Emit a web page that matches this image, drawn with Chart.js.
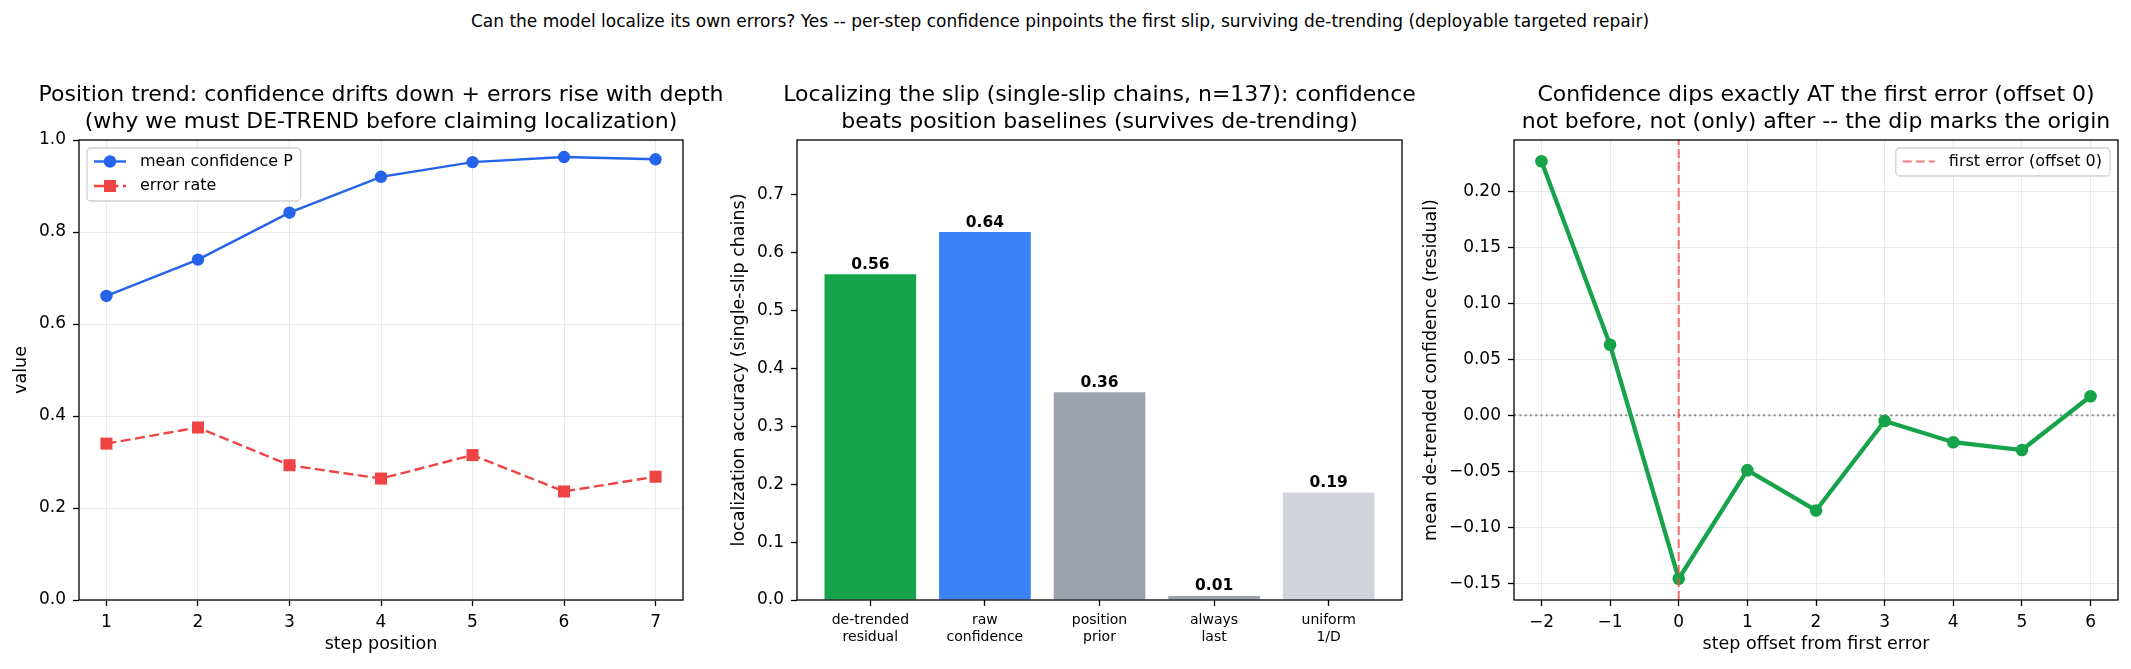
<!DOCTYPE html>
<html>
<head>
<meta charset="utf-8">
<script src="https://cdn.jsdelivr.net/npm/chart.js@4.4.1/dist/chart.umd.min.js"></script>
<style>
  html, body { margin: 0; padding: 0; background: #fff; overflow: hidden; }
  body { width: 2131px; height: 669px; position: relative; font-family: "DejaVu Sans", sans-serif; }
  canvas { position: absolute; top: 0; }
  #suptitle { position: absolute; left: 0; top: 11px; width: 2120px; text-align: center;
              font-size: 17px; line-height: 20px; color: #000; }
</style>
</head>
<body>
<div id="suptitle">Can the model localize its own errors? Yes -- per-step confidence pinpoints the first slip, surviving de-trending (deployable targeted repair)</div>
<canvas id="c1" width="762" height="669" style="left:0px"></canvas>
<canvas id="c2" width="745" height="669" style="left:727px"></canvas>
<canvas id="c3" width="804" height="669" style="left:1414px"></canvas>
<script>
// panel 1 : position trend
const steps = [1, 2, 3, 4, 5, 6, 7];
const meanConf = [0.661, 0.740, 0.842, 0.920, 0.952, 0.963, 0.958];
const errRate = [0.340, 0.375, 0.293, 0.264, 0.315, 0.236, 0.268];

// panel 2 : localization accuracy
const methods = ['de-trended\nresidual', 'raw\nconfidence', 'position\nprior', 'always\nlast', 'uniform\n1/D'];
const accuracy = [0.563, 0.636, 0.359, 0.007, 0.186];
const barColors = ['#16a34a', '#3b82f6', '#9ca3af', '#9ca3af', '#d1d5db'];

// panel 3 : residual around the first error
const offsets = [-2, -1, 0, 1, 2, 3, 4, 5, 6];
const residual = [0.227, 0.063, -0.146, -0.049, -0.085, -0.005, -0.024, -0.031, 0.017];
const offMin = -2.4, offMax = 6.4, resMin = -0.165, resMax = 0.246;

Chart.defaults.font.family = '"DejaVu Sans", sans-serif';
Chart.defaults.color = '#000';
Chart.defaults.animation = false;
Chart.defaults.events = [];

const minus = s => s.replace('-', '\u2212');

// full box around the plot, like matplotlib spines
const spines = {
  id: 'spines',
  afterDatasetsDraw(chart) {
    const a = chart.chartArea, ctx = chart.ctx;
    ctx.save();
    ctx.strokeStyle = '#000';
    ctx.lineWidth = 1.3;
    ctx.strokeRect(a.left, a.top, a.right - a.left, a.bottom - a.top);
    ctx.restore();
  }
};

// boxed legend inside the axes
const boxLegend = {
  id: 'boxLegend',
  afterDraw(chart, args, opts) {
    if (!opts.corner) return;
    const items = chart.data.datasets.filter(d => d.label);
    const ctx = chart.ctx, a = chart.chartArea;
    ctx.save();
    ctx.font = '16px "DejaVu Sans"';
    const textW = Math.max(...items.map(d => ctx.measureText(d.label).width));
    const w = 7 + 32 + 14 + textW + 8;
    const h = 28 + (items.length - 1) * 25;
    const x = opts.corner === 'right' ? a.right - 8 - w : a.left + 8;
    const y = a.top + 8;
    ctx.beginPath();
    ctx.roundRect(x, y, w, h, 4);
    ctx.fillStyle = 'rgba(255,255,255,0.8)';
    ctx.fill();
    ctx.strokeStyle = '#d0d0d0';
    ctx.lineWidth = 1.3;
    ctx.stroke();
    items.forEach((d, i) => {
      const cy = y + 13.5 + i * 24.5;
      ctx.strokeStyle = d.borderColor;
      ctx.lineWidth = d.borderWidth;
      ctx.setLineDash(d.borderDash || []);
      ctx.beginPath();
      ctx.moveTo(x + 7, cy);
      ctx.lineTo(x + 39, cy);
      ctx.stroke();
      ctx.setLineDash([]);
      if (d.pointRadius) {
        ctx.fillStyle = d.pointBackgroundColor;
        ctx.beginPath();
        if (d.pointStyle === 'rect') {
          const s = d.pointRadius * Math.SQRT1_2;
          ctx.rect(x + 23 - s, cy - s, 2 * s, 2 * s);
        } else {
          ctx.arc(x + 23, cy, d.pointRadius, 0, Math.PI * 2);
        }
        ctx.fill();
      }
      ctx.fillStyle = '#000';
      ctx.textBaseline = 'middle';
      ctx.fillText(d.label, x + 53, cy);
    });
    ctx.restore();
  }
};

// value labels above bars
const barValues = {
  id: 'barValues',
  afterDatasetsDraw(chart, args, opts) {
    if (!opts.show) return;
    const ctx = chart.ctx;
    ctx.save();
    ctx.font = 'bold 15.5px "DejaVu Sans"';
    ctx.fillStyle = '#000';
    ctx.textAlign = 'center';
    ctx.textBaseline = 'alphabetic';
    chart.getDatasetMeta(0).data.forEach((bar, i) => {
      ctx.fillText(accuracy[i].toFixed(2), bar.x, bar.y - 5.5);
    });
    ctx.restore();
  }
};
Chart.register(spines, boxLegend, barValues);

const titleOpts = text => ({
  display: true, text: text,
  font: { size: 22, weight: 'normal', lineHeight: 1.25 },
  padding: { top: 81.5, bottom: 3.5 }
});
const gridColor = '#e8e8e8';

function xAxis(min, max, title, cb, gridOn, tickFont) {
  return {
    type: 'linear', min: min, max: max, offset: false,
    afterFit: s => { s.height = 69; },
    border: { display: false },
    grid: { display: true, offset: false, drawOnChartArea: gridOn, color: gridColor,
            tickColor: '#000', tickLength: 6, tickWidth: 1.3 },
    ticks: { stepSize: 1, includeBounds: false, padding: 6, autoSkip: false, maxRotation: 0,
             font: tickFont || { size: 17 }, callback: cb },
    title: { display: title !== '', text: title, font: { size: 17.5 }, padding: { top: 0, bottom: 14 } }
  };
}
function yAxis(min, max, step, width, title, titlePad, cb, gridOn) {
  return {
    type: 'linear', min: min, max: max,
    afterFit: s => { s.width = width; },
    border: { display: false },
    grid: { display: true, drawOnChartArea: gridOn, color: gridColor,
            tickColor: '#000', tickLength: 6, tickWidth: 1.3 },
    ticks: { stepSize: step, includeBounds: false, padding: 7, font: { size: 17 }, callback: cb },
    title: { display: true, text: title, font: { size: 17.5 }, padding: { top: titlePad, bottom: 0 } }
  };
}
// empty right-hand axis that only reserves room, so the title centres over the plot
function spacer(width) {
  return {
    type: 'linear', position: 'right', display: true,
    afterFit: s => { s.width = width; },
    border: { display: false }, grid: { display: false },
    ticks: { display: false }, title: { display: false }
  };
}

// panel 1
new Chart(document.getElementById('c1'), {
  type: 'line',
  data: {
    datasets: [{
      label: 'mean confidence P',
      data: steps.map((s, i) => ({ x: s, y: meanConf[i] })),
      borderColor: '#2563eb', backgroundColor: '#2563eb', borderWidth: 2.4,
      pointStyle: 'circle', pointRadius: 6.2, pointBackgroundColor: '#2563eb', pointBorderWidth: 0
    }, {
      label: 'error rate',
      data: steps.map((s, i) => ({ x: s, y: errRate[i] })),
      borderColor: '#ef4444', backgroundColor: '#ef4444', borderWidth: 2.4, borderDash: [10, 4.5],
      pointStyle: 'rect', pointRadius: 8.5, pointBackgroundColor: '#ef4444', pointBorderWidth: 0
    }]
  },
  options: {
    responsive: false,
    layout: { padding: 0 },
    plugins: {
      legend: { display: false },
      tooltip: { enabled: false },
      title: titleOpts(['Position trend: confidence drifts down + errors rise with depth',
                        '(why we must DE-TREND before claiming localization)']),
      boxLegend: { corner: 'left' }
    },
    scales: {
      x: xAxis(0.7, 7.3, 'step position', v => String(v), true),
      y: yAxis(0, 1, 0.2, 79, 'value', 10.5, v => v.toFixed(1), true),
      yr: spacer(79)
    }
  }
});

// panel 2
new Chart(document.getElementById('c2'), {
  type: 'bar',
  data: {
    datasets: [{
      data: methods.map((m, i) => ({ x: i, y: accuracy[i] })),
      backgroundColor: barColors, borderWidth: 0,
      barPercentage: 0.8, categoryPercentage: 1.0, yAxisID: 'y'
    }]
  },
  options: {
    responsive: false,
    layout: { padding: 0 },
    plugins: {
      legend: { display: false },
      tooltip: { enabled: false },
      title: titleOpts(['Localizing the slip (single-slip chains, n=137): confidence',
                        'beats position baselines (survives de-trending)']),
      barValues: { show: true }
    },
    scales: {
      x: xAxis(-0.64, 4.64, '', v => methods[v] ? methods[v].split('\n') : '', false,
               { size: 14, lineHeight: 1.2 }),
      y: yAxis(0, 0.795, 0.1, 70, 'localization accuracy (single-slip chains)', 1.5, v => v.toFixed(1), false),
      yr: spacer(70)
    }
  }
});

// panel 3
new Chart(document.getElementById('c3'), {
  type: 'line',
  data: {
    datasets: [{
      label: 'first error (offset 0)',
      data: [{ x: 0, y: resMin }, { x: 0, y: resMax }],
      borderColor: 'rgba(239,68,68,0.7)', borderWidth: 2.2, borderDash: [9, 4],
      pointRadius: 0, order: 0
    }, {
      data: offsets.map((o, i) => ({ x: o, y: residual[i] })),
      borderColor: '#16a34a', backgroundColor: '#16a34a', borderWidth: 4.3,
      pointStyle: 'circle', pointRadius: 6.3, pointBackgroundColor: '#16a34a', pointBorderWidth: 0,
      order: 1
    }, {
      data: [{ x: offMin, y: 0 }, { x: offMax, y: 0 }],
      borderColor: 'rgba(128,128,128,0.9)', borderWidth: 2, borderDash: [2, 3.3],
      pointRadius: 0, order: 2
    }]
  },
  options: {
    responsive: false,
    layout: { padding: 0 },
    plugins: {
      legend: { display: false },
      tooltip: { enabled: false },
      title: titleOpts(['Confidence dips exactly AT the first error (offset 0)',
                        'not before, not (only) after -- the dip marks the origin']),
      boxLegend: { corner: 'right' }
    },
    scales: {
      x: xAxis(offMin, offMax, 'step offset from first error', v => minus(String(v)), true),
      y: yAxis(resMin, resMax, 0.05, 100, 'mean de-trended confidence (residual)', 6.5,
               v => (Math.abs(v) < 1e-9 ? '0.00' : minus(v.toFixed(2))), true),
      yr: spacer(100)
    }
  }
});
</script>
</body>
</html>
